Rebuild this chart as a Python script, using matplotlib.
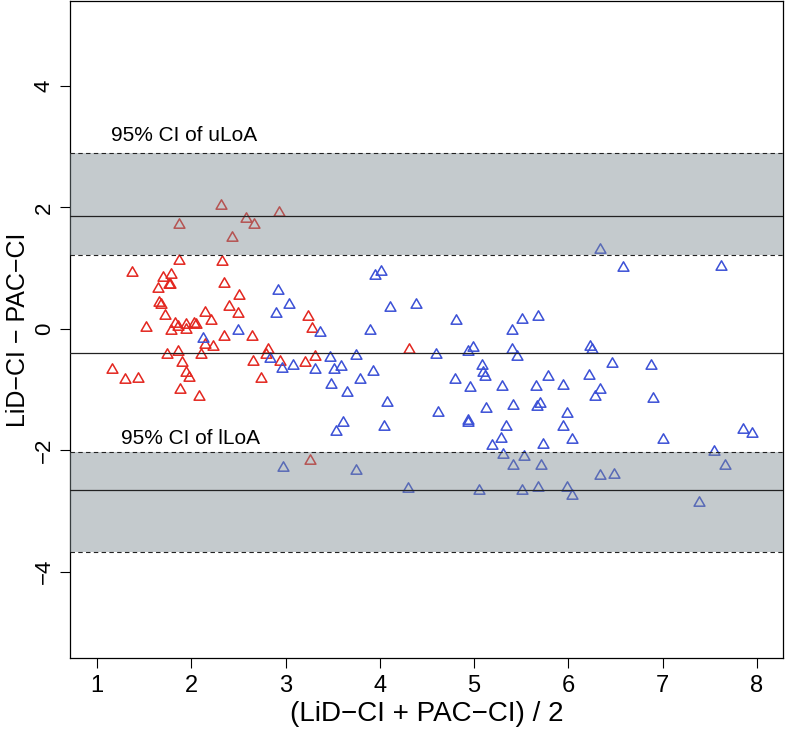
import matplotlib
matplotlib.use('Agg')
import matplotlib.pyplot as plt
from matplotlib.path import Path

plt.rcParams['font.family'] = ['Liberation Sans', 'DejaVu Sans']

# group 1 (red) : mean, difference
red_x = [2.32, 1.87, 2.58, 2.67, 2.93, 2.43,
         1.87, 2.33, 1.37, 1.70, 1.79, 1.76, 1.77, 1.65, 2.35, 2.51, 1.66, 1.68,
         2.40, 2.50, 2.15, 2.21, 1.72, 1.52, 1.83, 1.94, 2.03, 2.05, 1.79, 1.94,
         1.86, 2.35, 2.64, 3.24, 3.28,
         2.15, 2.23, 2.81, 2.79, 2.94, 3.21, 3.31, 1.74, 1.86, 2.10, 1.90, 2.65,
         1.16, 1.30, 1.43, 1.94, 1.98, 2.74, 1.88, 2.08, 3.26, 4.31]
red_y = [2.06, 1.75, 1.84, 1.75, 1.94, 1.53,
         1.15, 1.13, 0.95, 0.87, 0.92, 0.76, 0.75, 0.69, 0.78, 0.57, 0.46, 0.42,
         0.40, 0.27, 0.30, 0.16, 0.25, 0.04, 0.12, 0.10, 0.12, 0.10, -0.01, 0.02,
         0.07, -0.10, -0.10, 0.23, 0.03,
         -0.23, -0.27, -0.31, -0.40, -0.51, -0.53, -0.43, -0.39, -0.34, -0.40, -0.53, -0.51,
         -0.64, -0.81, -0.79, -0.70, -0.78, -0.79, -0.98, -1.09, -2.14, -0.32]

# group 2 (blue)
blue_x = [2.92, 3.04, 2.90, 3.37, 2.50, 2.12, 2.83, 2.96, 3.08, 3.31, 2.97,
          3.95, 4.01, 4.11, 4.38, 3.90, 4.81, 4.99, 4.93,
          3.47, 3.75, 4.60, 3.51, 3.59, 3.93, 3.79, 3.48, 3.65, 4.08, 5.08, 5.09,
          5.12, 4.80, 4.96, 4.62, 5.13, 3.61, 3.53, 4.04, 4.93, 4.94, 5.19, 3.75,
          4.30, 5.05,
          6.33, 6.58, 7.62, 5.51, 5.68, 5.40, 5.40, 5.46, 6.23, 6.25, 6.46, 6.88,
          5.30, 5.66, 5.78, 5.94, 6.22, 6.34, 6.28, 6.90, 5.41, 5.70, 5.67, 5.98,
          5.34, 5.94, 5.28, 5.73, 6.04, 7.00, 7.85, 7.95, 7.54, 5.31, 5.53, 5.41,
          5.71, 7.66, 6.34, 6.48, 5.51, 5.68, 5.98, 6.04, 7.38]
blue_y = [0.65, 0.42, 0.28, -0.04, 0.00, -0.13, -0.47, -0.63, -0.57, -0.64, -2.25,
          0.90, 0.97, 0.37, 0.42, -0.01, 0.17, -0.28, -0.35,
          -0.45, -0.42, -0.40, -0.64, -0.60, -0.68, -0.81, -0.89, -1.02, -1.18, -0.57, -0.69,
          -0.76, -0.81, -0.94, -1.35, -1.28, -1.52, -1.67, -1.58, -1.49, -1.51, -1.89, -2.31,
          -2.60, -2.63,
          1.33, 1.04, 1.06, 0.18, 0.23, 0.00, -0.31, -0.43, -0.27, -0.31, -0.54, -0.57,
          -0.92, -0.93, -0.76, -0.90, -0.75, -0.98, -1.09, -1.12, -1.23, -1.20, -1.26, -1.37,
          -1.58, -1.58, -1.78, -1.88, -1.79, -1.80, -1.63, -1.70, -1.99, -2.04, -2.08, -2.23,
          -2.23, -2.23, -2.39, -2.38, -2.64, -2.58, -2.58, -2.72, -2.84]

mean_diff = -0.40
upper_loa = 1.865
upper_ci = (1.22, 2.89)
lower_loa = -2.66
lower_ci = (-3.68, -2.03)

# open triangle like R pch=2
tri = Path([(-1, -0.866), (1, -0.866), (0, 0.866), (-1, -0.866)],
           [Path.MOVETO, Path.LINETO, Path.LINETO, Path.CLOSEPOLY])

fig = plt.figure(figsize=(7.86, 7.32), dpi=100)
ax = fig.add_axes([70 / 786, 1 - 658 / 732, 713 / 786, 657 / 732])

ax.plot(red_x, red_y, ls='none', marker=tri, ms=7.8, mfc='none', mec='#E3261F', mew=1.1, zorder=2)
ax.plot(blue_x, blue_y, ls='none', marker=tri, ms=7.8, mfc='none', mec='#3B50D6', mew=1.1, zorder=2)

# CI bands drawn over the points (semi-transparent grey)
for lo, hi in (upper_ci, lower_ci):
    ax.axhspan(lo, hi, color='#7d8a90', alpha=0.45, lw=0, zorder=3)
    ax.axhline(lo, color='#222222', lw=0.8, ls=(0, (4, 3)), zorder=4)
    ax.axhline(hi, color='#222222', lw=0.8, ls=(0, (4, 3)), zorder=4)

for v in (upper_loa, mean_diff, lower_loa):
    ax.axhline(v, color='#222222', lw=0.9, zorder=4)

ax.text(1.92, 3.18, '95% CI of uLoA', ha='center', va='center', fontsize=15)
ax.text(1.99, -1.80, '95% CI of lLoA', ha='center', va='center', fontsize=15)

ax.set_xlim(0.714, 8.276)
ax.set_ylim(-5.42, 5.40)
ax.set_xticks(range(1, 9))
ax.set_yticks([-4, -2, 0, 2, 4])
ax.tick_params(direction='out', length=7, width=0.8, labelsize=17, pad=5)
ax.tick_params(axis='y', labelsize=16, pad=4)
for lab in ax.get_yticklabels():
    lab.set_rotation(90)
    lab.set_va('center')
for s in ax.spines.values():
    s.set_linewidth(0.9)

ax.set_xlabel('(LiD\u2212CI + PAC\u2212CI) / 2', fontsize=20)
ax.set_ylabel('LiD\u2212CI \u2212 PAC\u2212CI', fontsize=18)
ax.xaxis.set_label_coords(0.5, -0.066)
ax.yaxis.set_label_coords(-0.056, 0.5)

fig.savefig('out.png', dpi=100)
